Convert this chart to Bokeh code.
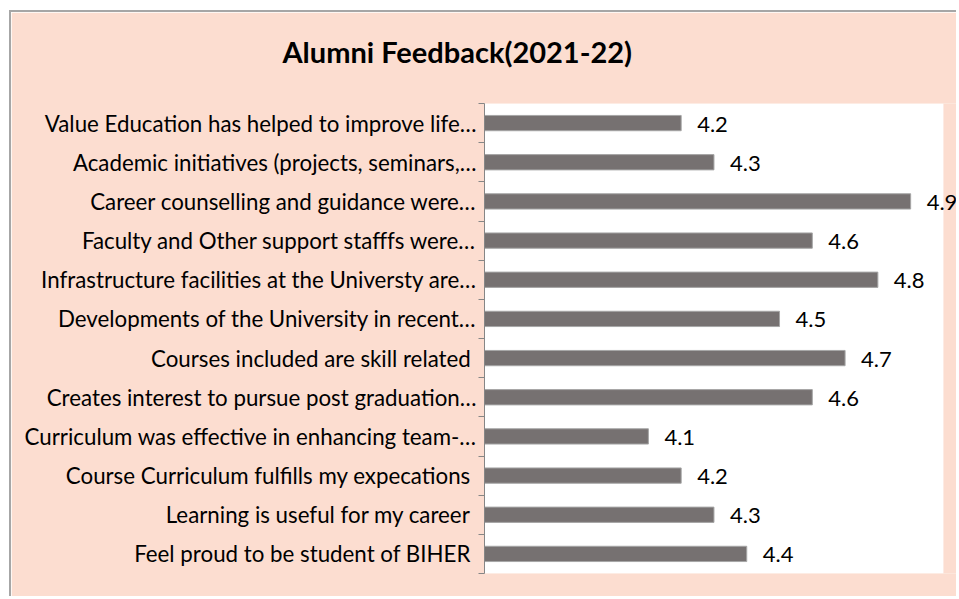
from bokeh.plotting import figure
from bokeh.models import Range1d, LinearAxis, FixedTicker, ColumnDataSource, LabelSet, Title, BoxAnnotation
from bokeh.core.properties import value
from bokeh.embed import file_html
from bokeh.resources import INLINE

categories = [
    "Value Education has helped to improve life…",
    "Academic initiatives (projects, seminars,…",
    "Career counselling and guidance were…",
    "Faculty and Other support stafffs were…",
    "Infrastructure facilities at the Universty are…",
    "Developments of the University in recent…",
    "Courses included are skill related ",
    "Creates interest to pursue post graduation…",
    "Curriculum was effective in enhancing team-…",
    "Course Curriculum fulfills my expecations ",
    "Learning is useful for my career ",
    "Feel proud to be student of BIHER ",
]
scores = [4.2, 4.3, 4.9, 4.6, 4.8, 4.5, 4.7, 4.6, 4.1, 4.2, 4.3, 4.4]
axis_min = 3.6
axis_max = 5.0
title_text = "Alumni Feedback(2021-22)"

view_end = 5.046  # visible extent past the plot area (for outside labels)

n = len(categories)
centers = [i + 0.5 for i in range(n)]
source = ColumnDataSource(dict(
    y=centers,
    right=scores,
    left=[axis_min] * n,
    lbl=[f"{v:.1f}" for v in scores],
))

PEACH = "#FCDDD0"
FONT = "Lato"

p = figure(
    width=947, height=586,
    x_range=Range1d(axis_min, view_end),
    y_range=Range1d(n, 0),
    x_axis_location=None, y_axis_location=None,
    output_backend="svg", toolbar_location=None,
    min_border_left=473, min_border_right=0,
    min_border_top=91, min_border_bottom=25,
    background_fill_color=PEACH, border_fill_color=PEACH,
    outline_line_color=None,
)
p.styles = {"border-left": "2px solid #A6A6A6", "border-top": "2px solid #A6A6A6",
            "margin-left": "9px", "margin-top": "10px"}
p.xgrid.visible = False
p.ygrid.visible = False

# white plot area
p.add_layout(BoxAnnotation(left=axis_min, right=axis_max, fill_color="white",
                           fill_alpha=1, line_color=None, level="underlay"))

p.hbar(y="y", left="left", right="right", height=0.39, source=source,
       fill_color="#767171", line_color="#A6A6A6", line_width=1)

yaxis = LinearAxis(
    ticker=FixedTicker(ticks=centers, minor_ticks=list(range(n + 1))),
    major_label_overrides={c: categories[i] for i, c in enumerate(centers)},
    major_tick_out=0, major_tick_in=0,
    minor_tick_out=6, minor_tick_in=0,
    minor_tick_line_color="#868686",
    axis_line_color="#868686",
    major_label_standoff=2,
    major_label_text_font=FONT,
    major_label_text_font_size="22.3px",
    major_label_text_color="#000000",
)
p.add_layout(yaxis, "left")

labels = LabelSet(x="right", y="y", text="lbl", source=source,
                  x_offset=16, y_offset=-1, text_baseline="middle",
                  text_font=value(FONT), text_font_size=value("22px"),
                  text_color="#000000")
p.add_layout(labels)

p.title = Title(text=title_text, align="left", offset=-202, standoff=0,
                padding=dict(left=0, right=0, top=0, bottom=35),
                text_font=FONT, text_font_size="29px", text_font_style="bold",
                text_color="#000000")

open("out.html", "w").write(file_html(p, INLINE))
